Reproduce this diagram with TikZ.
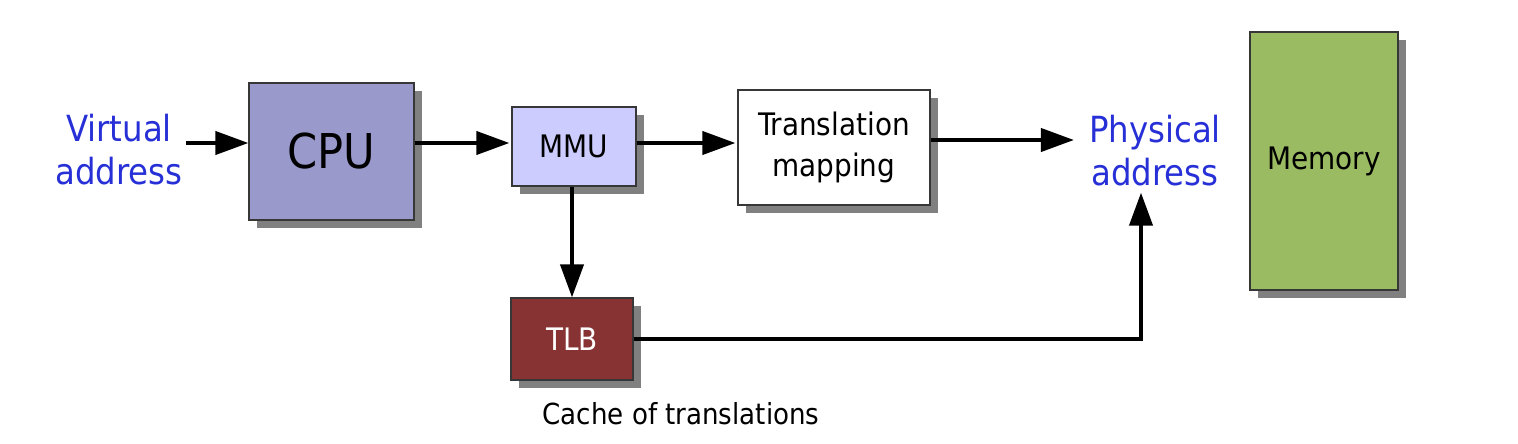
\documentclass[tikz,border=0pt]{standalone}
\usepackage{fontspec}
\setmainfont{DejaVu Sans Condensed}
\usetikzlibrary{arrows.meta,shadows}
\definecolor{addrblue}{RGB}{38,48,214}
\definecolor{boxline}{RGB}{55,55,55}
\definecolor{shadowgray}{RGB}{128,128,128}
\definecolor{cpufill}{RGB}{153,153,204}
\definecolor{mmufill}{RGB}{204,204,255}
\definecolor{tlbfill}{RGB}{136,51,51}
\definecolor{memfill}{RGB}{155,187,99}
\begin{document}
\begin{tikzpicture}[x=1pt,y=-1pt,
  box/.style={draw=boxline,line width=1.2pt,inner sep=0pt,align=center,
    drop shadow={shadow xshift=8pt,shadow yshift=-8pt,fill=shadowgray,opacity=1}},
  arr/.style={line width=4pt,-{Triangle[length=33pt,width=23pt]}},
  addr/.style={text=addrblue,align=center,font=\fontsize{36}{43}\selectfont}]
\useasboundingbox (0,0) rectangle (1518,444);
\coordinate (r1) at (0,143);
\coordinate (r2) at (0,140);
\node[addr,inner xsep=3pt,inner ysep=4pt] (va) at (119,150) {Virtual\\address};
\node[box,fill=cpufill,minimum width=165pt,minimum height=137pt,font=\fontsize{48}{48}\selectfont] (cpu) at (331.5,151.5) {CPU};
\node[box,fill=mmufill,minimum width=124pt,minimum height=79pt,font=\fontsize{31}{31}\selectfont] (mmu) at (574,146.5) {MMU};
\node[box,fill=white,minimum width=192pt,minimum height=115pt,font=\fontsize{31}{41}\selectfont] (tm) at (834,147.5) {Translation\\mapping};
\node[addr,inner xsep=15pt,inner ysep=6pt] (pa) at (1155,151) {Physical\\address};
\node[box,fill=memfill,minimum width=148pt,minimum height=258pt,font=\fontsize{31}{31}\selectfont] (mem) at (1324,161) {Memory};
\node[box,fill=tlbfill,text=white,minimum width=122pt,minimum height=82pt,font=\fontsize{31}{31}\selectfont] (tlb) at (572,339) {TLB};
\node[font=\fontsize{29}{29}\selectfont,inner sep=0pt] (cap) at (681,414) {Cache of translations};
\draw[arr] (va.east |- r1) -- (cpu.west |- r1);
\draw[arr] (cpu.east |- r1) -- ([xshift=-2pt]mmu.west |- r1);
\draw[arr] (mmu.east |- r1) -- ([xshift=-2pt]tm.west |- r1);
\draw[arr] (tm.east |- r2) -- (pa.west |- r2);
\draw[arr] (mmu.south -| tlb.north) -- (tlb.north);
\draw[arr] (tlb.east) -| ([xshift=-14pt]pa.south);
\end{tikzpicture}
\end{document}
